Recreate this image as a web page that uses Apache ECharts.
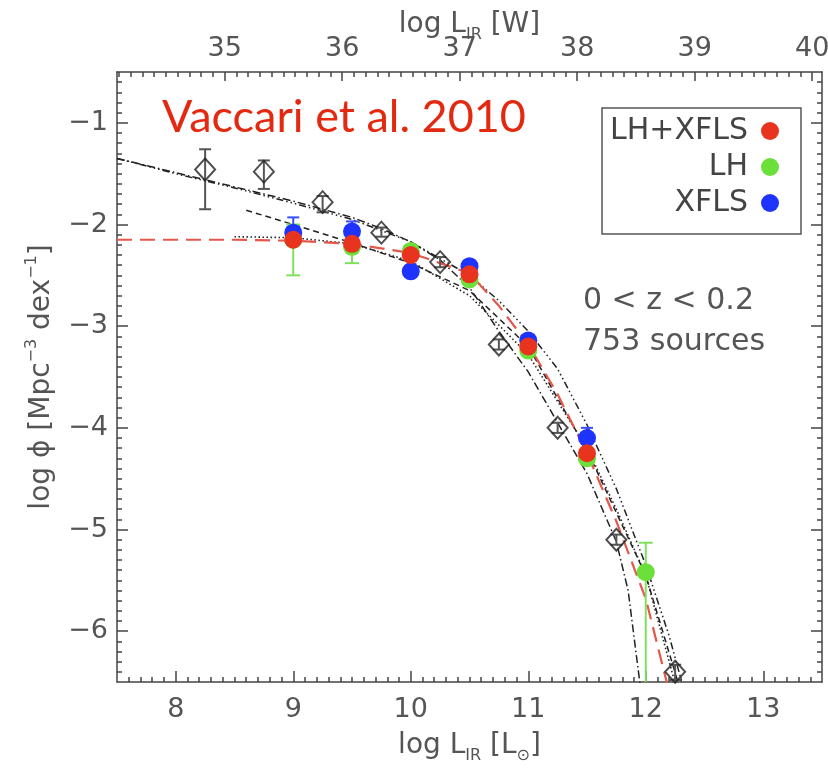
<!DOCTYPE html>
<html>
<head>
<meta charset="utf-8">
<script src="https://cdn.jsdelivr.net/npm/echarts@6/dist/echarts.min.js"></script>
<style>
  html, body { margin: 0; padding: 0; background: #fff; }
  #chart { width: 828px; height: 771px; }
</style>
</head>
<body>
<div id="chart"></div>
<script>
// tick labels
var xMajor = [8, 9, 10, 11, 12, 13];
var wMajor = [35, 36, 37, 38, 39, 40];
var yMajor = [-6, -5, -4, -3, -2, -1];
var wOffset = 26.583; // log L[W] = log L[Lsun] + 26.583

// black diamonds: x, y, low, high
var diaX = [8.25, 8.75, 9.25, 9.75, 10.25, 10.75, 11.25, 11.75, 12.25];
var diaY = [-1.46, -1.48, -1.78, -2.08, -2.37, -3.18, -4.0, -5.1, -6.4];
var diaLo = [-1.85, -1.65, -1.88, -2.12, -2.42, -3.23, -4.05, -5.15, -6.48];
var diaHi = [-1.26, -1.37, -1.72, -2.03, -2.32, -3.13, -3.95, -5.05, -6.33];

// LH+XFLS (red)
var redX = [9.0, 9.5, 10.0, 10.5, 11.0, 11.5];
var redY = [-2.15, -2.19, -2.3, -2.49, -3.2, -4.25];
// LH (green)
var grnX = [9.0, 9.5, 10.0, 10.5, 11.0, 11.5, 12.0];
var grnY = [-2.15, -2.22, -2.26, -2.54, -3.24, -4.3, -5.42];
var grnLo = [-2.5, -2.38, -2.3, -2.58, -3.28, -4.35, -7.0];
var grnHi = [-2.0, -2.1, -2.22, -2.5, -3.2, -4.25, -5.13];
// XFLS (blue)
var bluX = [9.0, 9.5, 10.0, 10.5, 11.0, 11.5];
var bluY = [-2.08, -2.07, -2.46, -2.41, -3.14, -4.1];
var bluLo = [-2.2, -2.2, -2.5, -2.45, -3.18, -4.2];
var bluHi = [-1.93, -1.97, -2.42, -2.37, -3.1, -4.0];

// fitted curves
var fitRed = [[7.5, -2.15], [8, -2.15], [8.5, -2.15], [9, -2.16], [9.5, -2.19], [10, -2.28], [10.5, -2.48],
  [10.75, -2.8], [11, -3.18], [11.25, -3.67], [11.5, -4.25], [11.75, -4.92], [12, -5.68], [12.2, -6.6]];
var fitA = [[7.5, -1.35], [8, -1.5], [8.5, -1.64], [9, -1.79], [9.5, -1.95], [10, -2.17], [10.5, -2.5],
  [10.75, -2.75], [11, -3.05], [11.25, -3.42], [11.5, -3.97], [11.75, -4.6], [12, -5.35], [12.2, -6.05], [12.33, -6.6]];
var fitB = [[7.5, -1.35], [8, -1.49], [8.5, -1.63], [9, -1.77], [9.5, -1.93], [9.75, -2.04], [10, -2.17],
  [10.25, -2.35], [10.5, -2.62], [10.75, -3.05], [11, -3.45], [11.25, -3.95], [11.5, -4.45], [11.75, -5.12],
  [11.85, -5.6], [11.96, -6.6]];
var fitC = [[8.6, -1.86], [9, -2.0], [9.5, -2.18], [10, -2.38], [10.5, -2.65], [11, -3.2], [11.5, -4.22],
  [12, -5.45], [12.3, -6.6]];
var fitD = [[8.5, -2.12], [9, -2.13], [9.5, -2.19], [10, -2.36], [10.5, -2.7], [11, -3.28], [11.5, -4.2],
  [11.75, -4.8], [12, -5.45], [12.27, -6.6]];

function zip(xs, ys) { return xs.map(function (x, i) { return [x, ys[i]]; }); }
function zip3(xs, lo, hi) { return xs.map(function (x, i) { return [x, lo[i], hi[i]]; }); }
function steps(a, b, s) {
  var out = [];
  for (var v = a; v <= b + 1e-9; v += s) out.push(Math.round(v * 1000) / 1000);
  return out;
}

var frame = '#444';
var tickText = '#555';
var font = 'DejaVu Sans';

function errorBars(name, data, color, cap, width) {
  return {
    name: name, type: 'custom', xAxisIndex: 0, yAxisIndex: 0, clip: true, silent: true,
    data: data, encode: { x: 0, y: [1, 2] }, z: 3,
    renderItem: function (params, api) {
      var x = api.value(0);
      var lo = api.coord([x, api.value(1)]);
      var hi = api.coord([x, api.value(2)]);
      var st = { stroke: color, lineWidth: width };
      return {
        type: 'group', children: [
          { type: 'line', shape: { x1: lo[0], y1: lo[1], x2: hi[0], y2: hi[1] }, style: st },
          { type: 'line', shape: { x1: lo[0] - cap, y1: lo[1], x2: lo[0] + cap, y2: lo[1] }, style: st },
          { type: 'line', shape: { x1: hi[0] - cap, y1: hi[1], x2: hi[0] + cap, y2: hi[1] }, style: st }
        ]
      };
    }
  };
}

function fitLine(data, color, dash, width) {
  return {
    type: 'line', xAxisIndex: 0, yAxisIndex: 0, data: data, showSymbol: false, silent: true,
    lineStyle: { color: color, width: width, type: dash }, z: 2
  };
}

var minusFmt = function (v) { return (v < 0 ? '\u2212' : '') + Math.abs(v); };
var nameStyle = {
  fontFamily: font, fontSize: 28, color: tickText, lineHeight: 36,
  rich: {
    sub: { fontFamily: font, fontSize: 16, color: tickText, verticalAlign: 'bottom', lineHeight: 18 },
    sup: { fontFamily: font, fontSize: 16, color: tickText, verticalAlign: 'top', lineHeight: 18 }
  }
};
var lineSt = { color: frame, width: 1.5 };

var chart = echarts.init(document.getElementById('chart'));
var option = {
  animation: false,
  grid: [
    { left: 117, right: 6, top: 72, bottom: 89, containLabel: false, outerBoundsMode: 'none' },
    { left: 117, right: 6, top: 72, bottom: 89, containLabel: false, outerBoundsMode: 'none' }
  ],
  legend: {
    data: ['LH+XFLS', 'LH', 'XFLS'],
    orient: 'vertical', right: 27, top: 108, align: 'right',
    icon: 'circle', itemWidth: 18, itemHeight: 18, itemGap: 6,
    textStyle: { fontFamily: font, fontSize: 30, color: '#444', lineHeight: 28, padding: [0, 8, 0, 0] },
    borderColor: '#555', borderWidth: 1.5, padding: [8, 22, 16, 8],
    selectedMode: false
  },
  xAxis: [
    {
      gridIndex: 0, type: 'value', position: 'bottom', min: 7.5, max: 13.5,
      axisLine: { show: true, lineStyle: lineSt },
      axisTick: { show: true, inside: true, length: 11, customValues: xMajor, lineStyle: lineSt },
      axisLabel: { customValues: xMajor, margin: 14, fontFamily: font, fontSize: 27, color: tickText },
      splitLine: { show: false },
      name: 'log L{sub|IR} [L{sub|\u2299}]', nameLocation: 'middle', nameGap: 46, nameTextStyle: nameStyle,
      nameMoveOverlap: false
    },
    {
      gridIndex: 0, type: 'value', position: 'top', min: 7.5 + wOffset, max: 13.5 + wOffset,
      axisLine: { show: true, lineStyle: lineSt },
      axisTick: { show: true, inside: true, length: 9, customValues: wMajor, lineStyle: lineSt },
      axisLabel: { customValues: wMajor, margin: 10, fontFamily: font, fontSize: 27, color: tickText },
      splitLine: { show: false },
      name: 'log L{sub|IR} [W]', nameLocation: 'middle', nameGap: 29, nameTextStyle: nameStyle,
      nameMoveOverlap: false
    },
    {
      gridIndex: 1, type: 'value', position: 'bottom', min: 7.5, max: 13.5,
      axisLine: { show: false },
      axisTick: { show: true, inside: true, length: 5, customValues: steps(7.6, 13.4, 0.1), lineStyle: lineSt },
      axisLabel: { show: false }, splitLine: { show: false }
    },
    {
      gridIndex: 1, type: 'value', position: 'top', min: 7.5 + wOffset, max: 13.5 + wOffset,
      axisLine: { show: false },
      axisTick: { show: true, inside: true, length: 5, customValues: steps(34.1, 40.0, 0.1), lineStyle: lineSt },
      axisLabel: { show: false }, splitLine: { show: false }
    }
  ],
  yAxis: [
    {
      gridIndex: 0, type: 'value', position: 'left', min: -6.5, max: -0.5,
      axisLine: { show: true, lineStyle: lineSt },
      axisTick: { show: true, inside: true, length: 11, customValues: yMajor, lineStyle: lineSt },
      axisLabel: { customValues: yMajor, margin: 9, formatter: minusFmt, fontFamily: font, fontSize: 27, color: tickText },
      splitLine: { show: false },
      name: 'log \u03d5 [Mpc{sup|\u22123} dex{sup|\u22121}]', nameLocation: 'middle', nameGap: 57, nameTextStyle: nameStyle,
      nameMoveOverlap: false
    },
    {
      gridIndex: 0, type: 'value', position: 'right', min: -6.5, max: -0.5,
      axisLine: { show: true, lineStyle: lineSt },
      axisTick: { show: true, inside: true, length: 11, customValues: yMajor, lineStyle: lineSt },
      axisLabel: { show: false }, splitLine: { show: false }
    },
    {
      gridIndex: 1, type: 'value', position: 'left', min: -6.5, max: -0.5,
      axisLine: { show: false },
      axisTick: { show: true, inside: true, length: 5, customValues: steps(-6.4, -0.6, 0.1), lineStyle: lineSt },
      axisLabel: { show: false }, splitLine: { show: false }
    },
    {
      gridIndex: 1, type: 'value', position: 'right', min: -6.5, max: -0.5,
      axisLine: { show: false },
      axisTick: { show: true, inside: true, length: 5, customValues: steps(-6.4, -0.6, 0.1), lineStyle: lineSt },
      axisLabel: { show: false }, splitLine: { show: false }
    }
  ],
  graphic: [
    {
      type: 'text', left: 162, top: 95, z: 100,
      style: { text: 'Vaccari et al. 2010', font: '45px Lato', fill: '#e3290f' }
    },
    {
      type: 'text', left: 583, top: 286, z: 100,
      style: { text: '0 < z < 0.2', font: '30px "DejaVu Sans"', fill: '#555' }
    },
    {
      type: 'text', left: 583, top: 327, z: 100,
      style: { text: '753 sources', font: '30px "DejaVu Sans"', fill: '#555' }
    }
  ],
  series: [
    fitLine(fitA, '#222', [7, 3, 1.5, 3, 1.5, 3, 1.5, 3], 1.5),
    fitLine(fitB, '#222', [8, 3, 1.5, 3], 1.5),
    fitLine(fitC, '#222', [6, 4], 1.5),
    fitLine(fitD, '#222', [1.5, 2.5], 1.6),
    fitLine(fitRed, '#e4574b', [15, 8], 2.2),
    errorBars('diaErr', zip3(diaX, diaLo, diaHi), '#555', 6, 2),
    errorBars('grnErr', zip3(grnX, grnLo, grnHi), '#7fe05c', 7, 2),
    errorBars('bluErr', zip3(bluX, bluLo, bluHi), '#3a4cff', 6, 2),
    {
      name: 'diamonds', type: 'scatter', xAxisIndex: 0, yAxisIndex: 0, data: zip(diaX, diaY),
      symbol: 'diamond', symbolSize: [20, 22], z: 5,
      itemStyle: { color: 'rgba(255,255,255,0)', borderColor: '#222', borderWidth: 2 }
    },
    {
      name: 'LH', type: 'scatter', xAxisIndex: 0, yAxisIndex: 0, data: zip(grnX, grnY),
      symbol: 'circle', symbolSize: 18, z: 6, itemStyle: { color: '#6be03a', opacity: 1 }
    },
    {
      name: 'XFLS', type: 'scatter', xAxisIndex: 0, yAxisIndex: 0, data: zip(bluX, bluY),
      symbol: 'circle', symbolSize: 18, z: 7, itemStyle: { color: '#1f33ff', opacity: 1 }
    },
    {
      name: 'LH+XFLS', type: 'scatter', xAxisIndex: 0, yAxisIndex: 0, data: zip(redX, redY),
      symbol: 'circle', symbolSize: 18, z: 8, itemStyle: { color: '#e8341f', opacity: 1 }
    }
  ]
};
chart.setOption(option);
</script>
</body>
</html>
